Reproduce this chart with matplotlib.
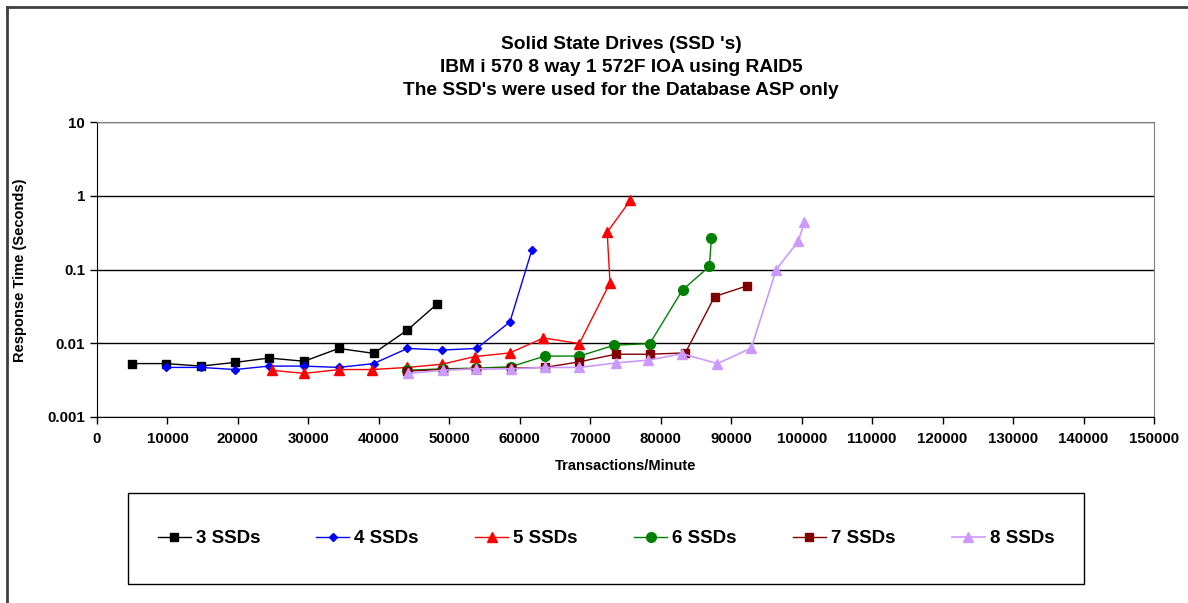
import matplotlib
matplotlib.use("Agg")
import matplotlib.pyplot as plt
from matplotlib.lines import Line2D
from matplotlib.patches import Rectangle
from matplotlib.ticker import FixedLocator, FixedFormatter, NullLocator

plt.rcParams['font.family'] = ['Liberation Sans', 'DejaVu Sans']
plt.rcParams['font.weight'] = 'bold'

# Data
x3 = [4930, 9800, 14750, 19600, 24400, 29400, 34300, 39250, 44050, 48250]
y3 = [0.0053, 0.0053, 0.0049, 0.0055, 0.0063, 0.0057, 0.0085, 0.0073, 0.0151, 0.034]

x4 = [9800, 14750, 19600, 24400, 29400, 34300, 39250, 44050, 49000, 53900, 58600, 61700]
y4 = [0.0047, 0.0047, 0.0044, 0.0049, 0.0049, 0.0047, 0.0053, 0.0085, 0.0081, 0.0085, 0.0195, 0.182]

x5 = [24800, 29400, 34400, 39050, 44050, 49000, 53600, 58600, 63350, 68450, 72800, 72400, 75700]
y5 = [0.0043, 0.0039, 0.0044, 0.0044, 0.0047, 0.0052, 0.0066, 0.0074, 0.0118, 0.0099, 0.066, 0.32, 0.87]

x6 = [44050, 49050, 53800, 58700, 63550, 68450, 73400, 78450, 83100, 86900, 87200]
y6 = [0.0043, 0.0045, 0.0046, 0.0048, 0.0067, 0.0067, 0.0094, 0.0099, 0.053, 0.11, 0.27]

x7 = [44050, 49050, 53800, 58700, 63550, 68450, 73600, 78450, 83500, 87650, 92250]
y7 = [0.0042, 0.0044, 0.0045, 0.0046, 0.0047, 0.0056, 0.0071, 0.0071, 0.0074, 0.043, 0.060]

x8 = [44150, 49050, 53800, 58700, 63550, 68450, 73600, 78200, 83050, 88050, 92850, 96400, 99500, 100400]
y8 = [0.0039, 0.0043, 0.0045, 0.0045, 0.0047, 0.0047, 0.0054, 0.0059, 0.0072, 0.0053, 0.0086, 0.10, 0.24, 0.44]

labels = ['3 SSDs', '4 SSDs', '5 SSDs', '6 SSDs', '7 SSDs', '8 SSDs']
x_ticks = list(range(0, 150001, 10000))
y_ticks = [0.001, 0.01, 0.1, 1, 10]
y_tick_labels = ['0.001', '0.01', '0.1', '1', '10']

W, H = 1188, 603
fig = plt.figure(figsize=(W / 100, H / 100), dpi=100)
ax = fig.add_axes([97 / W, 1 - 417 / H, (1154 - 97) / W, (417 - 122) / H])

# series styles
ax.plot(x3, y3, color='black', marker='s', ms=5.5, lw=1, label=labels[0])
ax.plot(x4, y4, color='#0000FF', marker='D', ms=4.5, lw=1, label=labels[1])
ax.plot(x5, y5, color='#FF0000', marker='^', ms=6.5, lw=1, label=labels[2])
ax.plot(x6, y6, color='#008000', marker='o', ms=7, lw=1, label=labels[3])
ax.plot(x7, y7, color='#800000', marker='s', ms=6, lw=1, label=labels[4])
ax.plot(x8, y8, color='#CC99FF', marker='^', ms=7.5, lw=1.2, label=labels[5])

ax.set_yscale('log')
ax.set_ylim(0.001, 10)
ax.set_xlim(0, 150000)
ax.yaxis.set_major_locator(FixedLocator(y_ticks))
ax.yaxis.set_major_formatter(FixedFormatter(y_tick_labels))
ax.yaxis.set_minor_locator(NullLocator())
ax.set_xticks(x_ticks)
ax.set_xticklabels([str(v) for v in x_ticks])
ax.tick_params(axis='both', labelsize=10.8, direction='out', length=5, width=1)
ax.tick_params(axis='x', pad=6)
ax.grid(axis='y', color='black', lw=1)
ax.set_axisbelow(True)

for s in ['top', 'right']:
    ax.spines[s].set_color('#808080')
for s in ['left', 'bottom']:
    ax.spines[s].set_color('black')

ax.set_xlabel('Transactions/Minute', fontsize=10.5, fontweight='bold', labelpad=9)
fig.text(20 / W, 1 - 270 / H, 'Response Time (Seconds)', rotation=90,
         ha='center', va='center', fontsize=10.5, fontweight='bold')

fig.text(621 / W, 1 - 67.5 / H,
         "Solid State Drives (SSD 's)\nIBM i 570 8 way 1 572F IOA using RAID5\n"
         "The SSD's were used for the Database ASP only",
         ha='center', va='center', fontsize=13.8, fontweight='bold', linespacing=1.48)

# legend box drawn separately, legend entries centred in it
fig.add_artist(Rectangle((128 / W, 1 - 584 / H), (1084 - 128) / W, 91 / H,
                         transform=fig.transFigure, fill=False, edgecolor='black', lw=1))
leg = fig.legend(loc='center', ncol=6, bbox_to_anchor=(606 / W, 1 - 538.5 / H),
                 fontsize=13.5, frameon=False, borderpad=0, borderaxespad=0,
                 handlelength=1.76, handletextpad=0.27, columnspacing=3.0)

# outer chart border (top and left visible)
fig.add_artist(Line2D([7 / W, 7 / W], [0, 1 - 7 / H], color='#404040', lw=2))
fig.add_artist(Line2D([7 / W, 1], [1 - 7 / H, 1 - 7 / H], color='#404040', lw=2))

fig.savefig('out.png', dpi=100)
